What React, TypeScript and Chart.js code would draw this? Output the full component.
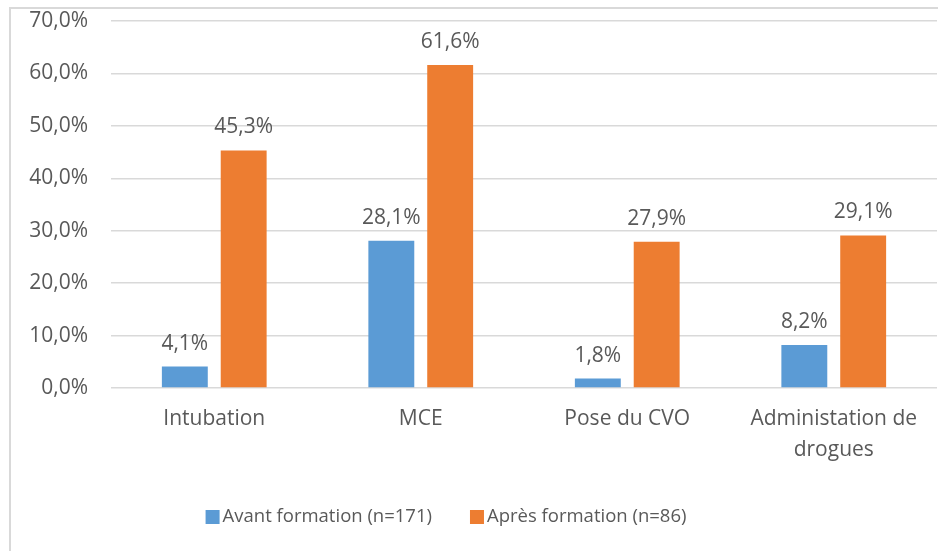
import React, { useEffect, useRef } from "react";
import { Chart, registerables } from "chart.js";

Chart.register(...registerables);

const categories: (string | string[])[] = ["Intubation", "MCE", "Pose du CVO", ["Administation de", "drogues"]];
const avantValues = [4.1, 28.1, 1.8, 8.2];
const apresValues = [45.3, 61.6, 27.9, 29.1];
const seriesNames = ["Avant formation (n=171)", "Après formation (n=86)"];
const seriesColors = ["#5B9BD5", "#ED7D31"];
const yMax = 70;
const yStep = 10;

const FONT = "'Open Sans', 'Noto Sans', sans-serif";
const TEXT = "#595959";

const fmt = (v: number) => v.toFixed(1).replace(".", ",") + "%";

const valueLabels = {
  id: "valueLabels",
  afterDatasetsDraw(chart: any) {
    const ctx = chart.ctx;
    ctx.save();
    ctx.font = `21px ${FONT}`;
    ctx.fillStyle = TEXT;
    ctx.textAlign = "center";
    ctx.textBaseline = "alphabetic";
    chart.data.datasets.forEach((ds: any, i: number) => {
      const meta = chart.getDatasetMeta(i);
      meta.data.forEach((el: any, j: number) => {
        ctx.fillText(fmt(ds.data[j]), el.x, el.y - 17);
      });
    });
    ctx.restore();
  },
};

const bottomLegend = {
  id: "bottomLegend",
  afterDraw(chart: any) {
    const ctx = chart.ctx;
    const fontSize = 18.5;
    const box = 14;
    const gap = 3;
    const spacing = 38;
    ctx.save();
    ctx.font = `${fontSize}px ${FONT}`;
    const items = chart.data.datasets.map((ds: any) => ({ text: ds.label, color: ds.backgroundColor, w: ctx.measureText(ds.label).width }));
    const total = items.reduce((a: number, it: any) => a + box + gap + it.w, 0) + spacing * (items.length - 1);
    let x = (chart.width - total) / 2 - 23;
    const cy = 517;
    ctx.textBaseline = "middle";
    ctx.textAlign = "left";
    items.forEach((it: any) => {
      ctx.fillStyle = it.color;
      ctx.fillRect(x, cy - box / 2, box, box);
      x += box + gap;
      ctx.fillStyle = TEXT;
      ctx.fillText(it.text, x, cy);
      x += it.w + spacing;
    });
    ctx.restore();
  },
};

export default function App() {
  const ref = useRef<HTMLCanvasElement>(null);
  useEffect(() => {
    if (!ref.current) return;
    const chart = new Chart(ref.current, {
      type: "bar",
      data: {
        labels: categories,
        datasets: [
          { label: seriesNames[0], data: avantValues, backgroundColor: seriesColors[0] },
          { label: seriesNames[1], data: apresValues, backgroundColor: seriesColors[1] },
        ],
      },
      options: {
        animation: false,
        responsive: false,
        maintainAspectRatio: false,
        layout: { padding: { top: 21, right: 1, left: 0, bottom: 0 } },
        datasets: { bar: { categoryPercentage: 0.57, barPercentage: 0.78 } },
        scales: {
          x: {
            grid: { display: false, drawTicks: false },
            border: { display: false },
            afterFit: (s: any) => { s.height = 163; },
            ticks: { color: TEXT, font: { family: FONT, size: 21, lineHeight: 1.45 }, padding: 16, maxRotation: 0, autoSkip: false },
          },
          y: {
            min: 0,
            max: yMax,
            grid: { color: "#D9D9D9", lineWidth: 1.5, drawTicks: false },
            border: { display: false },
            afterFit: (s: any) => { s.width = 111; s.paddingTop = 0; s.paddingBottom = 0; },
            ticks: { stepSize: yStep, color: TEXT, font: { family: FONT, size: 21 }, padding: 23, callback: (v: any) => fmt(Number(v)) },
          },
        },
        plugins: {
          legend: { display: false },
          tooltip: { enabled: false },
        },
      },
      plugins: [valueLabels, bottomLegend],
    });
    return () => chart.destroy();
  }, []);
  return (
    <div style={{ position: "fixed", left: 0, top: 0, width: 938, height: 551, background: "#fff" }}>
      <div style={{ position: "absolute", left: 9, top: 7, width: 940, height: 560, borderLeft: "2px solid #D9D9D9", borderTop: "2px solid #D9D9D9", boxSizing: "border-box" }} />
      <canvas ref={ref} width={938} height={551} style={{ position: "absolute", left: 0, top: 0 }} />
    </div>
  );
}
